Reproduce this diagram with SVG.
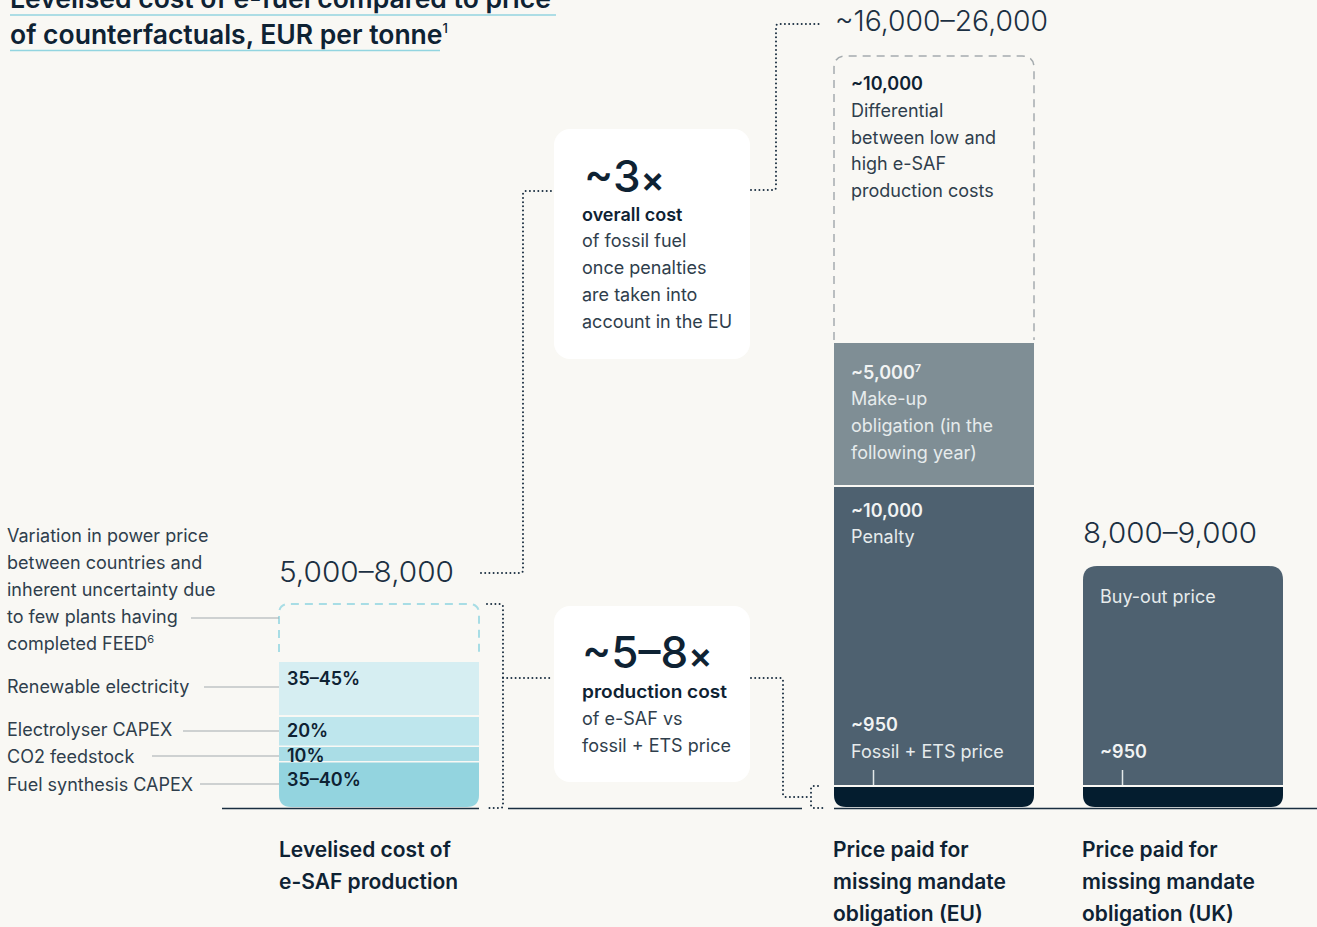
<svg xmlns="http://www.w3.org/2000/svg" width="1317" height="927" viewBox="0 0 1317 927">
  <defs>
    <style>
      text { font-family: Inter, "Noto Sans", "Liberation Sans", sans-serif; }
      .title { font-size: 26.5px; font-weight: 600; fill: #0E2233; }
      .uline { stroke: #93D5E0; stroke-width: 1.5; fill: none; }
      .lbl { font-size: 18px; font-weight: 400; fill: #2F3E4C; }
      .lead { stroke: #A3AAAE; stroke-width: 1.2; fill: none; }
      .pct { font-size: 18px; font-weight: 600; fill: #0E2233; }
      .big { font-size: 28.5px; font-weight: 300; fill: #1C3042; }
      .mult { font-size: 44px; font-weight: 500; fill: #0E2233; }
      .bold { font-size: 18px; font-weight: 600; fill: #0E2233; }
      .body { font-size: 18px; font-weight: 400; fill: #2F3E4C; }
      .boldL { font-size: 18px; font-weight: 600; fill: #F1F3F3; }
      .bodyL { font-size: 18px; font-weight: 400; fill: #E6EBEC; }
      .cap { font-size: 21px; font-weight: 600; fill: #0E2233; }
      .box { fill: #FFFFFF; }
      .dots { stroke: #1A2E40; stroke-width: 2; fill: none; stroke-dasharray: 0 4.2; stroke-linecap: round; }
      .axis { stroke: #1A2E40; stroke-width: 1.6; fill: none; }
      .tick { stroke: #E3E8E9; stroke-width: 1.5; }
    </style>
  </defs>

  <rect x="0" y="0" width="1317" height="927" fill="#F9F8F4"/>

  <!-- heading -->
  <g id="title">
    <text class="title" x="10" y="8">Levelised cost of e-fuel compared to price</text>
    <line class="uline" x1="10" y1="15" x2="556" y2="15"/>
    <text class="title" x="10" y="44">of counterfactuals, EUR per tonne<tspan font-size="13" dy="-11" font-weight="500">1</tspan></text>
    <line class="uline" x1="10" y1="50.5" x2="440" y2="50.5"/>
  </g>

  <!-- baseline -->
  <g id="axis">
    <line class="axis" x1="222" y1="808.5" x2="479" y2="808.5"/>
    <line class="axis" x1="508" y1="808.5" x2="802" y2="808.5"/>
    <line class="axis" x1="834" y1="808.5" x2="1317" y2="808.5"/>
  </g>

  <!-- levelised cost bar -->
  <g id="bar-lcoe">
    <path d="M279,652 V614 Q279,604 289,604 H469 Q479,604 479,614 V652" fill="none" stroke="#A8DDE5" stroke-width="2" stroke-dasharray="8 6"/>
    <rect x="279" y="662" width="200" height="53" fill="#D6EEF2"/>
    <rect x="279" y="717" width="200" height="28.5" fill="#BEE6ED"/>
    <rect x="279" y="747" width="200" height="14" fill="#AADDE6"/>
    <path d="M279,762.5 H479 V795 Q479,807 467,807 H291 Q279,807 279,795 Z" fill="#93D4DF"/>
    <text class="pct" x="287" y="685">35–45%</text>
    <text class="pct" x="287" y="737">20%</text>
    <text class="pct" x="287" y="762">10%</text>
    <text class="pct" x="287" y="786">35–40%</text>
    <text class="big" x="279" y="582" textLength="175" lengthAdjust="spacingAndGlyphs">5,000–8,000</text>
  </g>

  <!-- cost breakdown labels -->
  <g id="labels-lcoe">
    <text class="lbl" x="7" y="542">Variation in power price</text>
    <text class="lbl" x="7" y="569">between countries and</text>
    <text class="lbl" x="7" y="596">inherent uncertainty due</text>
    <text class="lbl" x="7" y="623">to few plants having</text>
    <text class="lbl" x="7" y="650">completed FEED<tspan font-size="11" dy="-7">6</tspan></text>
    <line class="lead" x1="191" y1="618" x2="279" y2="618"/>
    <text class="lbl" x="7" y="693">Renewable electricity</text>
    <line class="lead" x1="204" y1="687" x2="279" y2="687"/>
    <text class="lbl" x="7" y="736">Electrolyser CAPEX</text>
    <line class="lead" x1="183" y1="731" x2="279" y2="731"/>
    <text class="lbl" x="7" y="763">CO2 feedstock</text>
    <line class="lead" x1="152" y1="756" x2="279" y2="756"/>
    <text class="lbl" x="7" y="791">Fuel synthesis CAPEX</text>
    <line class="lead" x1="200" y1="784" x2="279" y2="784"/>
  </g>

  <!-- overall cost callout -->
  <g id="box-3x">
    <rect class="box" x="554" y="129" width="196" height="230" rx="16"/>
    <text class="mult" x="584" y="192">~3<tspan font-size="36" font-weight="600">×</tspan></text>
    <text class="bold" x="582" y="221">overall cost</text>
    <text class="body" x="582" y="247">of fossil fuel</text>
    <text class="body" x="582" y="274">once penalties</text>
    <text class="body" x="582" y="301">are taken into</text>
    <text class="body" x="582" y="328">account in the EU</text>
  </g>

  <!-- production cost callout -->
  <g id="box-58x">
    <rect class="box" x="554" y="606" width="196" height="176" rx="16"/>
    <text class="mult" x="582" y="668">~5–8<tspan font-size="36" font-weight="600">×</tspan></text>
    <text class="bold" x="582" y="698" textLength="145" lengthAdjust="spacingAndGlyphs">production cost</text>
    <text class="body" x="582" y="725">of e-SAF vs</text>
    <text class="body" x="582" y="752">fossil + ETS price</text>
  </g>

  <!-- EU obligation bar -->
  <g id="bar-eu">
    <text class="big" x="835" y="31" textLength="213" lengthAdjust="spacingAndGlyphs">~16,000–26,000</text>
    <path d="M834,340 V68 Q834,56 846,56 H1022 Q1034,56 1034,68 V340" fill="none" stroke="#A5ABAE" stroke-width="1.5" stroke-dasharray="8 6"/>
    <rect x="834" y="343" width="200" height="142" fill="#7F8E95"/>
    <rect x="834" y="487" width="200" height="298" fill="#4E6170"/>
    <path d="M834,787 H1034 V795 Q1034,807 1022,807 H846 Q834,807 834,795 Z" fill="#041D2F"/>
    <line class="tick" x1="873.5" y1="770" x2="873.5" y2="785"/>
    <text class="bold" x="851" y="90">~10,000</text>
    <text class="body" x="851" y="117">Differential</text>
    <text class="body" x="851" y="144">between low and</text>
    <text class="body" x="851" y="170">high e-SAF</text>
    <text class="body" x="851" y="197">production costs</text>
    <text class="boldL" x="851" y="379">~5,000<tspan font-size="11" dy="-7">7</tspan></text>
    <text class="bodyL" x="851" y="405">Make-up</text>
    <text class="bodyL" x="851" y="432">obligation (in the</text>
    <text class="bodyL" x="851" y="459">following year)</text>
    <text class="boldL" x="851" y="517">~10,000</text>
    <text class="bodyL" x="851" y="543">Penalty</text>
    <text class="boldL" x="851" y="731">~950</text>
    <text class="bodyL" x="851" y="758">Fossil + ETS price</text>
  </g>

  <!-- UK obligation bar -->
  <g id="bar-uk">
    <text class="big" x="1083" y="543" textLength="174" lengthAdjust="spacingAndGlyphs">8,000–9,000</text>
    <path d="M1083,785 V580 Q1083,566 1097,566 H1269 Q1283,566 1283,580 V785 Z" fill="#4E6170"/>
    <path d="M1083,787 H1283 V795 Q1283,807 1271,807 H1095 Q1083,807 1083,795 Z" fill="#041D2F"/>
    <line class="tick" x1="1122.5" y1="770" x2="1122.5" y2="785"/>
    <text class="bodyL" x="1100" y="603">Buy-out price</text>
    <text class="boldL" x="1100" y="758">~950</text>
  </g>

  <!-- category captions -->
  <g id="captions">
    <text class="cap" x="279" y="857">Levelised cost of</text>
    <text class="cap" x="279" y="889">e-SAF production</text>
    <text class="cap" x="833" y="857">Price paid for</text>
    <text class="cap" x="833" y="889">missing mandate</text>
    <text class="cap" x="833" y="921">obligation (EU)</text>
    <text class="cap" x="1082" y="857">Price paid for</text>
    <text class="cap" x="1082" y="889">missing mandate</text>
    <text class="cap" x="1082" y="921">obligation (UK)</text>
  </g>

  <!-- dotted connectors -->
  <g id="connectors">
    <path class="dots" d="M481,573 H520 Q523,573 523,570 V194 Q523,191 526,191 H553"/>
    <path class="dots" d="M751,190 H773 Q776,190 776,187 V27 Q776,24 779,24 H821"/>
    <path class="dots" d="M487,604 H500 Q503,604 503,607 V805 Q503,808 500,808 H487"/>
    <path class="dots" d="M503,678 H553"/>
    <path class="dots" d="M751,678 H780 Q783,678 783,681 V794 Q783,797 786,797 H809"/>
    <path class="dots" d="M818,786 H814 Q811,786 811,789 V805 Q811,808 814,808 H823"/>
  </g>
</svg>
